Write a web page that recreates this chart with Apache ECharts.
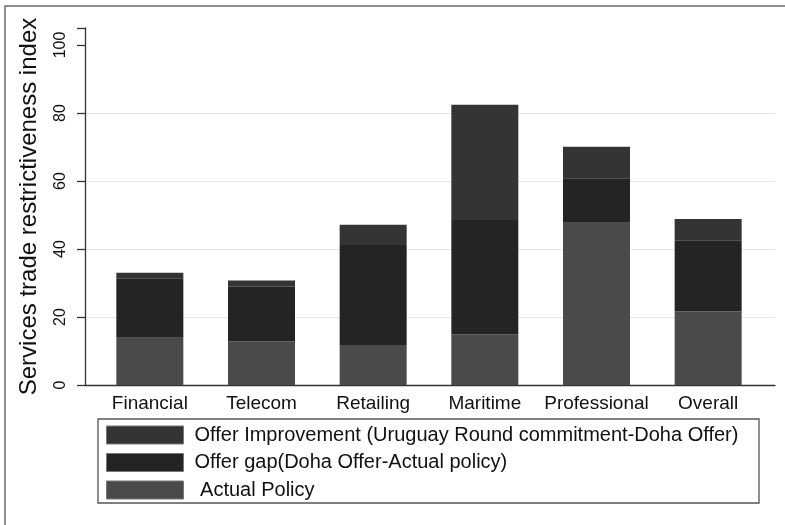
<!DOCTYPE html>
<html>
<head>
<meta charset="utf-8">
<script src="https://cdn.jsdelivr.net/npm/echarts@6/dist/echarts.min.js"></script>
<style>
html,body{margin:0;padding:0;background:#fff;}
#chart{width:785px;height:525px;}
</style>
</head>
<body>
<div id="chart"></div>
<script>
var categories = ['Financial', 'Telecom', 'Retailing', 'Maritime', 'Professional', 'Overall'];
var actualPolicy = [13.9, 12.9, 11.8, 14.9, 47.7, 21.6];
var offerGap = [17.5, 16.0, 29.4, 33.6, 13.1, 21.0];
var offerImprovement = [1.6, 1.8, 5.9, 33.9, 9.3, 6.2];
var seriesNames = ['Offer Improvement (Uruguay Round commitment-Doha Offer)', 'Offer gap(Doha Offer-Actual policy)', ' Actual Policy'];
var yTicks = [0, 20, 40, 60, 80, 100];
var yAxisTitle = 'Services trade restrictiveness index';

var FONT = "'Liberation Sans', Arial, Helvetica, sans-serif";
var chart = echarts.init(document.getElementById('chart'));
var option = {
  backgroundColor: '#fff',
  animation: false,
  textStyle: { fontFamily: FONT, color: '#111' },
  graphic: [
    { type: 'rect', z: -10, shape: { x: 5, y: 6, width: 900, height: 700 },
      style: { fill: 'none', stroke: '#6a6a6a', lineWidth: 1.5 } },
    { type: 'rect', z: -5, shape: { x: 98, y: 419, width: 661, height: 84 },
      style: { fill: '#fff', stroke: '#555', lineWidth: 1.3 } }
  ],
  grid: [
    { left: 85, right: 10, top: 28, bottom: 140 },
    { left: 94, right: 21, top: 28, bottom: 140 }
  ],
  xAxis: [
    { type: 'value', gridIndex: 0, min: 0, max: 1,
      axisLine: { show: true, lineStyle: { color: '#333', width: 1.3 } },
      axisTick: { show: false }, axisLabel: { show: false }, splitLine: { show: false } },
    { type: 'category', gridIndex: 1, data: categories,
      axisLine: { show: false }, axisTick: { show: false },
      axisLabel: { fontSize: 19, color: '#111', margin: 9, fontFamily: FONT, interval: 0 } }
  ],
  yAxis: [
    { type: 'value', gridIndex: 0, min: 0, max: 105, interval: 20,
      name: yAxisTitle, nameLocation: 'middle', nameGap: 44,
      nameTextStyle: { fontSize: 24, color: '#111', fontFamily: FONT },
      axisLine: { show: true, lineStyle: { color: '#333', width: 1.3 } },
      axisTick: { show: true, length: 8, lineStyle: { color: '#333', width: 1.3 } },
      axisLabel: { rotate: 90, fontSize: 16, color: '#111', margin: 16, fontFamily: FONT,
        formatter: function (v) { return yTicks.indexOf(v) >= 0 ? String(v) : ''; } },
      splitLine: { show: true, lineStyle: { color: ['transparent', '#e6e6e6', '#e6e6e6', '#e6e6e6', '#e6e6e6', 'transparent'], width: 1 } } },
    { type: 'value', gridIndex: 1, min: 0, max: 105, interval: 20, show: false }
  ],
  legend: {
    orient: 'vertical', left: 98, top: 418,
    padding: [7, 8, 8, 8],
    icon: 'rect',
    itemWidth: 77, itemHeight: 18, itemGap: 7.5,
    data: seriesNames,
    textStyle: { fontSize: 20, color: '#111', fontFamily: FONT, padding: [0, 0, 0, 6] },
    itemStyle: { borderWidth: 1, borderColor: '#777' }
  },
  series: [
    { name: seriesNames[2], type: 'bar', stack: 'total', xAxisIndex: 1, yAxisIndex: 1,
      barWidth: 67, data: actualPolicy, itemStyle: { color: '#4a4a4a' } },
    { name: seriesNames[1], type: 'bar', stack: 'total', xAxisIndex: 1, yAxisIndex: 1,
      barWidth: 67, data: offerGap, itemStyle: { color: '#242424' } },
    { name: seriesNames[0], type: 'bar', stack: 'total', xAxisIndex: 1, yAxisIndex: 1,
      barWidth: 67, data: offerImprovement, itemStyle: { color: '#343434' } }
  ]
};
chart.setOption(option);
</script>
</body>
</html>
